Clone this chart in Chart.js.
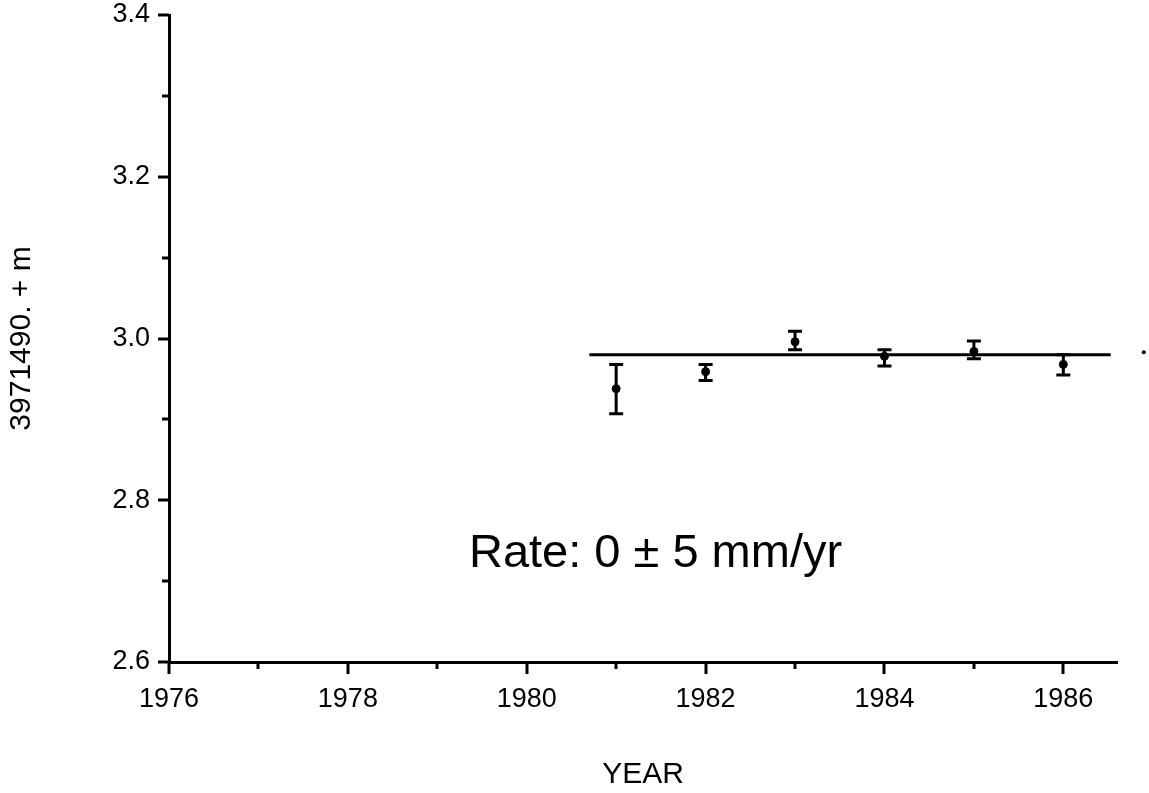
<!DOCTYPE html>
<html>
<head>
<meta charset="utf-8">
<script src="https://cdn.jsdelivr.net/npm/chart.js@4/dist/chart.umd.min.js"></script>
<style>
  html, body { margin: 0; padding: 0; background: #fff; }
  #wrap { width: 1149px; height: 793px; }
</style>
</head>
<body>
<div id="wrap"><canvas id="c" width="1149" height="793"></canvas></div>
<script>
// ---- data ----
const years = [1981, 1982, 1983, 1984, 1985, 1986];
const values = [2.938, 2.959, 2.996, 2.978, 2.984, 2.968];
const errLow = [2.907, 2.948, 2.986, 2.966, 2.975, 2.955];
const errHigh = [2.968, 2.968, 3.009, 2.986, 2.997, 2.980];
const fitYears = [1980.7, 1986.53];
const fitValues = [2.980, 2.980];
const strayDotX = [1986.9];
const strayDotY = [2.983];
const xTickLabels = ['1976', '1978', '1980', '1982', '1984', '1986'];
const yTickLabels = ['2.6', '2.8', '3.0', '3.2', '3.4'];
const rateText = 'Rate: 0 \u00B1 5 mm/yr';
const xTitle = 'YEAR';
const yTitle = '3971490. + m';

const FONT = "'Liberation Sans', Arial, Helvetica, sans-serif";

const tickPlugin = {
  id: 'ticksAndErrors',
  afterDraw(chart) {
    const ctx = chart.ctx;
    const xs = chart.scales.x, ys = chart.scales.y;
    const area = chart.chartArea;
    ctx.save();
    ctx.strokeStyle = '#000';
    ctx.fillStyle = '#000';
    ctx.lineWidth = 3;
    ctx.lineCap = 'butt';
    // x ticks
    for (let yr = 1976; yr <= 1986; yr++) {
      const px = Math.round(xs.getPixelForValue(yr));
      const len = (yr % 2 === 0) ? 12 : 7;
      ctx.beginPath();
      ctx.moveTo(px, area.bottom);
      ctx.lineTo(px, area.bottom + len);
      ctx.stroke();
    }
    // y ticks
    for (let i = 0; i <= 8; i++) {
      const v = 2.6 + i * 0.1;
      const py = Math.round(ys.getPixelForValue(v));
      const len = (i % 2 === 0) ? 11 : 7;
      ctx.beginPath();
      ctx.moveTo(area.left, py);
      ctx.lineTo(area.left - len, py);
      ctx.stroke();
    }
    // error bars
    for (let i = 0; i < years.length; i++) {
      const px = xs.getPixelForValue(years[i]);
      const pl = ys.getPixelForValue(errLow[i]);
      const ph = ys.getPixelForValue(errHigh[i]);
      ctx.beginPath();
      ctx.moveTo(px, pl); ctx.lineTo(px, ph);
      ctx.moveTo(px - 7, pl); ctx.lineTo(px + 7, pl);
      ctx.moveTo(px - 7, ph); ctx.lineTo(px + 7, ph);
      ctx.stroke();
    }
    // stray dot beyond the axis end
    for (let i = 0; i < strayDotX.length; i++) {
      ctx.beginPath();
      ctx.arc(xs.getPixelForValue(strayDotX[i]), ys.getPixelForValue(strayDotY[i]), 2, 0, Math.PI * 2);
      ctx.fill();
    }
    // annotation
    ctx.font = '47px ' + FONT;
    ctx.textAlign = 'center';
    ctx.textBaseline = 'middle';
    ctx.fillText(rateText, xs.getPixelForValue(1981.44), ys.getPixelForValue(2.734));
    ctx.restore();
  }
};

new Chart(document.getElementById('c'), {
  type: 'scatter',
  data: {
    datasets: [
      {
        label: 'fit',
        data: fitYears.map((x, i) => ({ x, y: fitValues[i] })),
        showLine: true,
        borderColor: '#000',
        borderWidth: 3,
        pointRadius: 0
      },
      {
        label: 'data',
        data: years.map((x, i) => ({ x, y: values[i] })),
        backgroundColor: '#000',
        borderColor: '#000',
        pointRadius: 4,
        pointStyle: 'circle'
      }
    ]
  },
  options: {
    responsive: false,
    animation: false,
    events: [],
    layout: { padding: { left: 0, top: 15, right: 32, bottom: 0 } },
    plugins: { legend: { display: false }, tooltip: { enabled: false } },
    scales: {
      x: {
        type: 'linear',
        min: 1976,
        max: 1986.6,
        grid: { display: false, drawTicks: false, tickLength: 0 },
        border: { display: true, color: '#000', width: 3 },
        ticks: {
          stepSize: 2,
          includeBounds: false,
          autoSkip: false,
          maxRotation: 0,
          padding: 21,
          color: '#000',
          font: { family: FONT, size: 27 },
          callback: (v) => xTickLabels.includes(String(v)) ? String(v) : ''
        },
        title: {
          display: true, text: xTitle, color: '#000',
          font: { family: FONT, size: 30 },
          padding: { top: 0, bottom: 0 }
        },
        afterFit: (s) => { s.height = 131; s.paddingLeft = 0; s.paddingRight = 0; }
      },
      y: {
        type: 'linear',
        min: 2.6,
        max: 3.4,
        grid: { display: false, drawTicks: false, tickLength: 0 },
        border: { display: true, color: '#000', width: 3 },
        ticks: {
          stepSize: 0.2,
          padding: 19,
          color: '#000',
          font: { family: FONT, size: 27 },
          callback: (v) => {
            const s = Number(v).toFixed(1);
            return yTickLabels.includes(s) ? s : '';
          }
        },
        title: {
          display: true, text: yTitle, color: '#000',
          font: { family: FONT, size: 30 },
          padding: { top: 4, bottom: 0 }
        },
        afterFit: (s) => { s.width = 169; s.paddingTop = 0; s.paddingBottom = 0; }
      }
    }
  },
  plugins: [tickPlugin]
});
</script>
</body>
</html>
